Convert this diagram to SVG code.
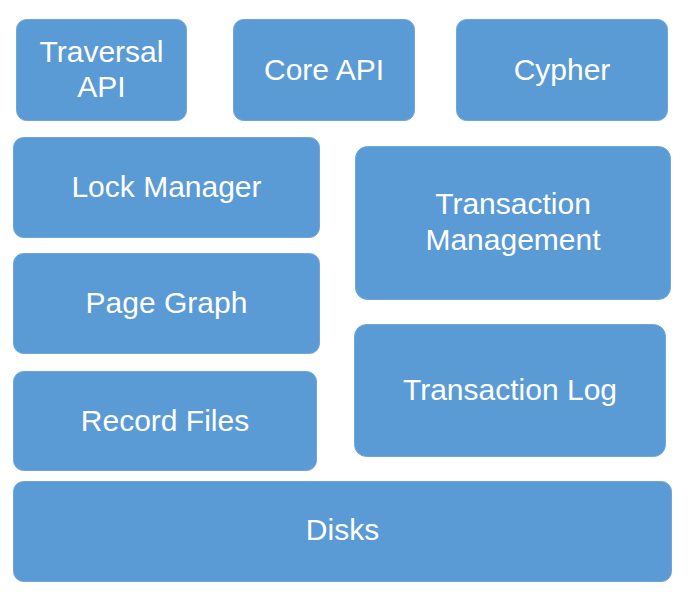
<svg xmlns="http://www.w3.org/2000/svg" width="698" height="594" viewBox="0 0 698 594">
<style>
.box{fill:#5B9BD5;stroke:#6FA7DA;stroke-width:1}
.t{fill:#FFFFFF;font-family:"Liberation Sans",Arial,sans-serif;font-size:30px;text-anchor:middle}
</style>
<rect width="698" height="594" fill="#FFFFFF"/>
<g id="traversal-api"><rect class="box" x="16.5" y="19.5" width="170" height="101" rx="10"/><text class="t" x="101.5" y="62">Traversal</text><text class="t" x="101.5" y="97">API</text></g>
<g id="core-api"><rect class="box" x="233.5" y="19.5" width="181" height="101" rx="10"/><text class="t" x="324" y="80">Core API</text></g>
<g id="cypher"><rect class="box" x="456.5" y="19.5" width="211" height="101" rx="10"/><text class="t" x="562" y="80">Cypher</text></g>
<g id="lock-manager"><rect class="box" x="13.5" y="137.5" width="306" height="100" rx="10"/><text class="t" x="166.5" y="197">Lock Manager</text></g>
<g id="transaction-management"><rect class="box" x="355.5" y="146.5" width="315" height="153" rx="12"/><text class="t" x="513" y="214">Transaction</text><text class="t" x="513" y="250">Management</text></g>
<g id="page-graph"><rect class="box" x="13.5" y="253.5" width="306" height="100" rx="10"/><text class="t" x="166.5" y="313">Page Graph</text></g>
<g id="transaction-log"><rect class="box" x="354.5" y="324.5" width="311" height="132" rx="12"/><text class="t" x="510" y="400">Transaction Log</text></g>
<g id="record-files"><rect class="box" x="13.5" y="371.5" width="303" height="99" rx="10"/><text class="t" x="165" y="431">Record Files</text></g>
<g id="disks"><rect class="box" x="13.5" y="481.5" width="658" height="100" rx="10"/><text class="t" x="342.5" y="540">Disks</text></g>
<g id="connectors"></g>
</svg>
